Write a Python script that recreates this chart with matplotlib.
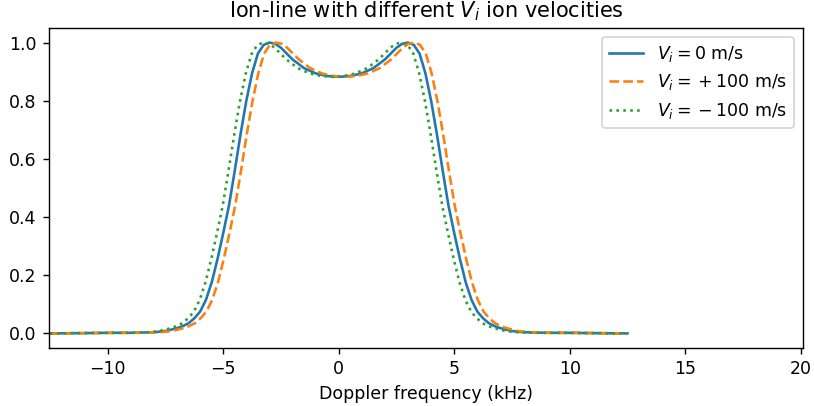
import numpy as np
import matplotlib
matplotlib.use("Agg")
import matplotlib.pyplot as plt

# Doppler frequency (kHz) for each drift velocity
freq_0 = [-12.5, -11, -10, -9, -8, -7.5, -7, -6.75, -6.5, -6.25, -6, -5.75, -5.5, -5.25,
          -5, -4.75, -4.5, -4.25, -4, -3.75, -3.5, -3.25, -3, -2.75, -2.5, -2.25, -2,
          -1.5, -1, -0.5, 0, 0.5, 1, 1.5, 2, 2.25, 2.5, 2.75, 3, 3.25, 3.5, 3.75, 4,
          4.25, 4.5, 4.75, 5, 5.25, 5.5, 5.75, 6, 6.25, 6.5, 6.75, 7, 7.5, 8, 9, 10,
          11, 12.5]
freq_p100 = [-12.5, -10.73, -9.73, -8.73, -7.73, -7.23, -6.73, -6.48, -6.23, -5.98, -5.73,
             -5.48, -5.23, -4.98, -4.73, -4.48, -4.23, -3.98, -3.73, -3.48, -3.23, -2.98,
             -2.73, -2.48, -2.23, -1.98, -1.73, -1.23, -0.73, -0.23, 0.27, 0.77, 1.27,
             1.77, 2.27, 2.52, 2.77, 3.02, 3.27, 3.52, 3.77, 4.02, 4.27, 4.52, 4.77, 5.02,
             5.27, 5.52, 5.77, 6.02, 6.27, 6.52, 6.77, 7.02, 7.27, 7.77, 8.27, 9.27,
             10.27, 11.27, 12.5]
freq_m100 = [-12.5, -11.27, -10.27, -9.27, -8.27, -7.77, -7.27, -7.02, -6.77, -6.52, -6.27,
             -6.02, -5.77, -5.52, -5.27, -5.02, -4.77, -4.52, -4.27, -4.02, -3.77, -3.52,
             -3.27, -3.02, -2.77, -2.52, -2.27, -1.77, -1.27, -0.77, -0.27, 0.23, 0.73,
             1.23, 1.73, 1.98, 2.23, 2.48, 2.73, 2.98, 3.23, 3.48, 3.73, 3.98, 4.23, 4.48,
             4.73, 4.98, 5.23, 5.48, 5.73, 5.98, 6.23, 6.48, 6.73, 7.23, 7.73, 8.73,
             9.73, 10.73, 12.5]

# normalised ion-line power (same shape for all three velocities)
spec = [0.0, 0.001, 0.002, 0.002, 0.004, 0.008, 0.018, 0.025, 0.035, 0.052, 0.075, 0.115,
        0.175, 0.255, 0.345, 0.44, 0.56, 0.685, 0.80, 0.895, 0.962, 0.992, 1.0, 0.996,
        0.982, 0.962, 0.942, 0.912, 0.894, 0.885, 0.882,
        0.885, 0.894, 0.912, 0.942, 0.962, 0.982, 0.996, 1.0, 0.992, 0.962, 0.895, 0.80,
        0.685, 0.56, 0.44, 0.345, 0.255, 0.175, 0.115, 0.075, 0.052, 0.035, 0.025, 0.018,
        0.008, 0.004, 0.002, 0.002, 0.001, 0.0]

labels = [r"$V_i = 0$ m/s", r"$V_i = {}+ 100$ m/s", r"$V_i = {}- 100$ m/s"]

fig, ax = plt.subplots(figsize=(814 / 125, 406 / 125), dpi=125)
fig.subplots_adjust(left=0.060, right=0.9865, top=0.931, bottom=0.143)

ax.plot(freq_0, spec, "-", color="C0", label=labels[0])
ax.plot(freq_p100, spec, "--", color="C1", label=labels[1])
ax.plot(freq_m100, spec, ":", color="C2", label=labels[2])

ax.set_xlim(-12.55, 20.1)
ax.set_title(r"Ion-line with different $V_i$ ion velocities")
ax.set_xlabel("Doppler frequency (kHz)")
ax.legend(loc="upper right")

fig.savefig("out.png", dpi=125)
